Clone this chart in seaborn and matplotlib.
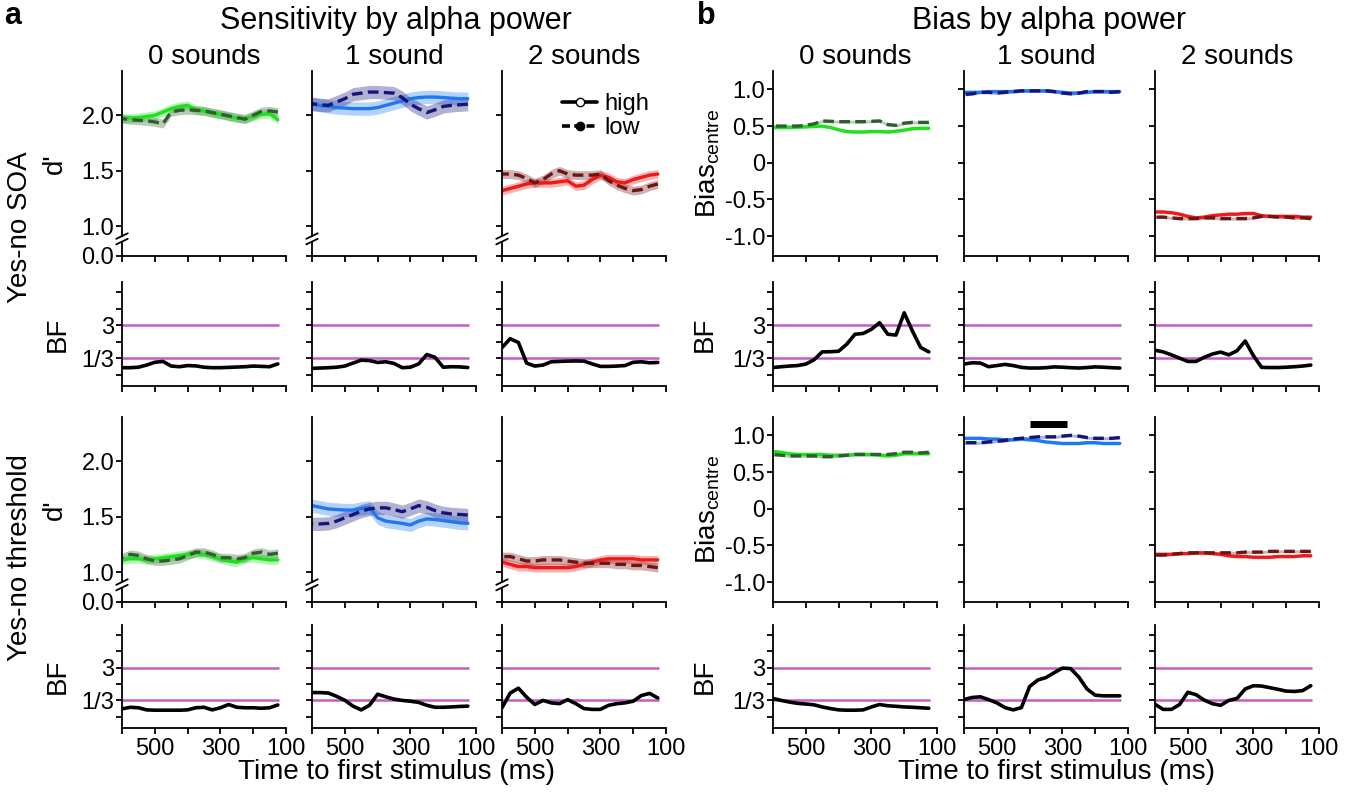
import numpy as np
import pandas as pd
import matplotlib
matplotlib.use("Agg")
import matplotlib.pyplot as plt
import seaborn as sns
from matplotlib.lines import Line2D

sns.set_theme(style="ticks")
plt.rcParams["font.family"] = ["Liberation Sans", "DejaVu Sans"]
plt.rcParams["mathtext.fontset"] = "custom"
plt.rcParams["text.color"] = "black"
plt.rcParams["axes.labelcolor"] = "black"
plt.rcParams["xtick.color"] = "black"
plt.rcParams["ytick.color"] = "black"

# ---------------- data ----------------
time_ms = [600, 575, 550, 525, 500, 475, 450, 425, 400, 375,
           350, 325, 300, 275, 250, 225, 200, 175, 150, 125]
conditions = ["0 sounds", "1 sound", "2 sounds"]
x_ticks = [600, 500, 400, 300, 200, 100]
x_ticklabels = ["", "500", "", "300", "", "100"]

# Yes-no SOA, d'
soa_d_0_high = [1.97, 1.975, 1.98, 1.99, 2.00, 2.03, 2.06, 2.08, 2.09, 2.05, 2.04, 2.02, 2.01, 1.99, 1.975, 1.97, 1.99, 2.01, 2.015, 1.96]
soa_d_0_low = [1.97, 1.96, 1.955, 1.95, 1.94, 1.925, 2.03, 2.045, 2.05, 2.045, 2.04, 2.025, 2.01, 1.995, 1.98, 1.965, 2.00, 2.035, 2.04, 2.03]
soa_d_1_high = [2.10, 2.09, 2.08, 2.07, 2.065, 2.06, 2.06, 2.06, 2.07, 2.09, 2.11, 2.13, 2.15, 2.16, 2.165, 2.165, 2.16, 2.155, 2.15, 2.15]
soa_d_1_low = [2.105, 2.095, 2.09, 2.12, 2.15, 2.19, 2.20, 2.21, 2.21, 2.205, 2.20, 2.16, 2.10, 2.06, 2.025, 2.05, 2.08, 2.09, 2.095, 2.10]
soa_d_2_high = [1.32, 1.34, 1.36, 1.38, 1.39, 1.39, 1.39, 1.40, 1.41, 1.36, 1.37, 1.42, 1.46, 1.44, 1.40, 1.39, 1.42, 1.44, 1.46, 1.47]
soa_d_2_low = [1.47, 1.47, 1.46, 1.43, 1.39, 1.42, 1.47, 1.50, 1.47, 1.46, 1.46, 1.46, 1.47, 1.41, 1.37, 1.34, 1.32, 1.33, 1.36, 1.38]

# Yes-no threshold, d'
thr_d_0_high = [1.11, 1.12, 1.12, 1.11, 1.12, 1.13, 1.14, 1.15, 1.16, 1.17, 1.16, 1.14, 1.12, 1.10, 1.09, 1.12, 1.13, 1.12, 1.11, 1.11]
thr_d_0_low = [1.13, 1.16, 1.15, 1.12, 1.10, 1.10, 1.11, 1.12, 1.15, 1.18, 1.18, 1.16, 1.13, 1.13, 1.12, 1.13, 1.17, 1.18, 1.16, 1.17]
thr_d_1_high = [1.60, 1.585, 1.57, 1.565, 1.56, 1.56, 1.575, 1.585, 1.49, 1.46, 1.45, 1.44, 1.425, 1.46, 1.48, 1.475, 1.465, 1.455, 1.445, 1.44]
thr_d_1_low = [1.435, 1.435, 1.44, 1.46, 1.49, 1.52, 1.55, 1.57, 1.58, 1.58, 1.565, 1.545, 1.57, 1.60, 1.585, 1.555, 1.535, 1.525, 1.52, 1.515]
thr_d_2_high = [1.09, 1.07, 1.05, 1.05, 1.04, 1.04, 1.04, 1.04, 1.04, 1.05, 1.07, 1.09, 1.11, 1.12, 1.12, 1.12, 1.12, 1.11, 1.11, 1.11]
thr_d_2_low = [1.14, 1.14, 1.12, 1.10, 1.10, 1.11, 1.11, 1.11, 1.10, 1.09, 1.08, 1.08, 1.08, 1.08, 1.07, 1.07, 1.06, 1.06, 1.05, 1.04]

# Bayes factors (log base 3), sensitivity
soa_bf_0 = [-1.58, -1.58, -1.55, -1.42, -1.25, -1.20, -1.48, -1.52, -1.45, -1.47, -1.55, -1.58, -1.58, -1.56, -1.54, -1.52, -1.48, -1.50, -1.52, -1.35]
soa_bf_1 = [-1.62, -1.60, -1.58, -1.55, -1.48, -1.30, -1.12, -1.15, -1.26, -1.22, -1.32, -1.58, -1.55, -1.35, -0.78, -0.95, -1.55, -1.52, -1.53, -1.57]
soa_bf_2 = [-0.36, 0.18, -0.05, -1.30, -1.48, -1.42, -1.22, -1.20, -1.18, -1.17, -1.18, -1.35, -1.50, -1.50, -1.48, -1.45, -1.25, -1.22, -1.28, -1.26]
thr_bf_0 = [-1.52, -1.42, -1.45, -1.58, -1.60, -1.60, -1.60, -1.60, -1.58, -1.45, -1.42, -1.58, -1.45, -1.25, -1.42, -1.45, -1.45, -1.48, -1.45, -1.28]
thr_bf_1 = [-0.52, -0.52, -0.55, -0.75, -0.99, -1.35, -1.58, -1.30, -0.62, -0.78, -0.92, -1.00, -1.05, -1.12, -1.30, -1.42, -1.42, -1.40, -1.37, -1.35]
thr_bf_2 = [-1.45, -0.55, -0.25, -0.80, -1.25, -1.00, -1.15, -1.20, -0.95, -1.20, -1.50, -1.55, -1.55, -1.30, -1.20, -1.15, -1.05, -0.70, -0.57, -0.85]

# Yes-no SOA, bias
soa_b_0_high = [0.48, 0.48, 0.48, 0.485, 0.49, 0.495, 0.50, 0.48, 0.45, 0.425, 0.42, 0.42, 0.425, 0.425, 0.42, 0.43, 0.445, 0.465, 0.47, 0.47]
soa_b_0_low = [0.50, 0.50, 0.50, 0.50, 0.51, 0.53, 0.57, 0.565, 0.56, 0.56, 0.56, 0.56, 0.565, 0.57, 0.52, 0.51, 0.54, 0.55, 0.55, 0.55]
soa_b_1_high = [0.96, 0.96, 0.96, 0.97, 0.97, 0.97, 0.97, 0.98, 0.98, 0.98, 0.98, 0.97, 0.96, 0.95, 0.95, 0.96, 0.97, 0.97, 0.97, 0.97]
soa_b_1_low = [0.93, 0.94, 0.96, 0.96, 0.95, 0.96, 0.97, 0.98, 0.98, 0.98, 0.98, 0.97, 0.95, 0.94, 0.95, 0.97, 0.97, 0.97, 0.96, 0.97]
soa_b_2_high = [-0.67, -0.67, -0.68, -0.70, -0.73, -0.75, -0.74, -0.72, -0.71, -0.70, -0.70, -0.69, -0.69, -0.72, -0.73, -0.73, -0.73, -0.73, -0.74, -0.74]
soa_b_2_low = [-0.74, -0.74, -0.75, -0.76, -0.76, -0.76, -0.75, -0.75, -0.76, -0.76, -0.76, -0.76, -0.75, -0.73, -0.73, -0.74, -0.74, -0.75, -0.75, -0.76]

# Yes-no threshold, bias
thr_b_0_high = [0.78, 0.77, 0.75, 0.74, 0.74, 0.74, 0.74, 0.73, 0.73, 0.73, 0.74, 0.74, 0.74, 0.73, 0.72, 0.73, 0.75, 0.75, 0.75, 0.75]
thr_b_0_low = [0.74, 0.73, 0.72, 0.72, 0.72, 0.72, 0.71, 0.71, 0.72, 0.73, 0.74, 0.74, 0.74, 0.74, 0.74, 0.75, 0.77, 0.77, 0.76, 0.77]
thr_b_1_high = [0.96, 0.96, 0.96, 0.95, 0.95, 0.94, 0.94, 0.95, 0.94, 0.93, 0.91, 0.90, 0.89, 0.89, 0.89, 0.90, 0.90, 0.89, 0.89, 0.89]
thr_b_1_low = [0.90, 0.90, 0.90, 0.91, 0.92, 0.93, 0.95, 0.96, 0.97, 0.98, 0.98, 0.98, 0.99, 1.00, 0.99, 0.97, 0.96, 0.96, 0.96, 0.97]
thr_b_2_high = [-0.62, -0.62, -0.62, -0.61, -0.61, -0.60, -0.60, -0.61, -0.62, -0.64, -0.65, -0.65, -0.66, -0.66, -0.66, -0.65, -0.65, -0.65, -0.64, -0.64]
thr_b_2_low = [-0.63, -0.63, -0.62, -0.61, -0.60, -0.60, -0.60, -0.60, -0.60, -0.60, -0.60, -0.59, -0.59, -0.59, -0.58, -0.58, -0.58, -0.58, -0.58, -0.58]

# Bayes factors (log base 3), bias
soa_bbf_0 = [-1.57, -1.52, -1.48, -1.45, -1.36, -1.10, -0.62, -0.61, -0.58, -0.15, 0.45, 0.50, 0.75, 1.15, 0.45, 0.40, 1.75, 0.65, -0.35, -0.62]
soa_bbf_1 = [-1.36, -1.28, -1.30, -1.52, -1.45, -1.38, -1.45, -1.56, -1.60, -1.60, -1.58, -1.53, -1.55, -1.58, -1.60, -1.57, -1.53, -1.55, -1.58, -1.60]
soa_bbf_2 = [-0.52, -0.62, -0.80, -1.00, -1.20, -1.20, -0.95, -0.75, -0.63, -0.80, -0.55, 0.04, -0.85, -1.56, -1.57, -1.57, -1.55, -1.52, -1.48, -1.42]
thr_bbf_0 = [-0.88, -1.00, -1.10, -1.18, -1.22, -1.27, -1.40, -1.50, -1.58, -1.60, -1.60, -1.58, -1.40, -1.25, -1.33, -1.36, -1.40, -1.42, -1.45, -1.48]
thr_bbf_1 = [-0.94, -0.82, -0.78, -0.95, -1.15, -1.44, -1.58, -1.44, -0.15, 0.25, 0.40, 0.70, 0.98, 0.95, 0.43, -0.30, -0.68, -0.72, -0.72, -0.72]
thr_bbf_2 = [-1.24, -1.55, -1.55, -1.25, -0.50, -0.65, -0.98, -1.20, -1.30, -1.00, -0.88, -0.30, -0.10, -0.12, -0.22, -0.32, -0.43, -0.45, -0.40, -0.10]

bf_levels = [1, -1]            # log3 of 3 and 1/3
sig_bar_time = [400, 285]      # significant window, 1 sound threshold bias
sig_bar_value = 1.15

# band half-widths (SEM) per condition
sem_dprime = [0.04, 0.06, 0.04]
sem_bias = [0.02, 0.02, 0.02]

# ---------------- style ----------------
col_high = ["#1ee01e", "#1f78f0", "#f01818"]
col_low = ["#2d5f2d", "#14147a", "#6e1414"]
magenta = "#c55ac8"

W, H = 1353, 795
fig = plt.figure(figsize=(W / 100, H / 100), dpi=100)
col_x = [122, 312, 502, 773, 964, 1155]
col_w = 164
row_tb = [(71, 256), (282, 386), (417, 602), (625, 728)]
TICK_FS = 17
LAB_FS = 20


def make_ax(c, r):
    top, bot = row_tb[r]
    return fig.add_axes([col_x[c] / W, 1 - bot / H, col_w / W, (bot - top) / H])


def style_ax(ax, show_x):
    sns.despine(ax=ax)
    ax.set_xlim(600, 100)
    ax.set_xticks(x_ticks)
    ax.set_xticklabels(x_ticklabels if show_x else [""] * len(x_ticks))
    ax.tick_params(direction="out", length=4, width=1.3, labelsize=TICK_FS,
                   pad=1.5, colors="black")
    ax.tick_params(axis="x", pad=3)
    for s in ("left", "bottom"):
        ax.spines[s].set_linewidth(1.3)
        ax.spines[s].set_color("black")
    ax.set_xlabel("")
    ax.set_ylabel("")


def draw_pair(ax, high, low, ch, cl, sem, lw):
    n = len(time_ms)
    for vals, col in ((high, ch), (low, cl)):
        v = np.asarray(vals)
        ax.fill_between(time_ms, v - sem, v + sem, color=col, alpha=0.33, lw=0)
    df = pd.DataFrame({"time": time_ms + time_ms, "value": high + low,
                       "power": ["high"] * n + ["low"] * n})
    sns.lineplot(data=df, x="time", y="value", hue="power", style="power",
                 palette={"high": ch, "low": cl},
                 dashes={"high": "", "low": (3.2, 1.6)},
                 linewidth=lw, legend=False, estimator=None, ax=ax)


def dprime_axis(ax, labels):
    ax.set_ylim(0.73, 2.40)
    ax.set_yticks([0.73, 1.0, 1.5, 2.0])
    ax.set_yticklabels(["0.0", "1.0", "1.5", "2.0"] if labels else [""] * 4)
    ax.spines["left"].set_bounds(0.91, 2.40)
    tr = ax.get_yaxis_transform()
    ax.plot([0, 0], [0.73, 0.86], transform=tr, color="black", lw=1.3, clip_on=False)
    for yb in (0.86, 0.91):
        ax.plot([-0.035, 0.035], [yb - 0.025, yb + 0.025], transform=tr,
                color="black", lw=1.3, clip_on=False)


def bias_axis(ax, labels):
    ax.set_ylim(-1.27, 1.25)
    ax.set_yticks([-1.0, -0.5, 0, 0.5, 1.0])
    ax.set_yticklabels(["-1.0", "-0.5", "0", "0.5", "1.0"] if labels else [""] * 5)


def bf_panel(ax, bf, labels):
    ax.hlines(bf_levels, 600, 120, color=magenta, lw=1.8)
    sns.lineplot(x=time_ms, y=bf, color="black", linewidth=2.6, estimator=None, ax=ax)


def bf_axis(ax, labels):
    ax.set_ylim(-2.69, 3.62)
    ax.set_yticks([-2, -1, 0, 1, 2, 3])
    ax.set_yticklabels(["", "1/3", "", "3", "", ""] if labels else [""] * 6)


dprime_rows = [[(soa_d_0_high, soa_d_0_low), (soa_d_1_high, soa_d_1_low), (soa_d_2_high, soa_d_2_low)],
               [(thr_d_0_high, thr_d_0_low), (thr_d_1_high, thr_d_1_low), (thr_d_2_high, thr_d_2_low)]]
bias_rows = [[(soa_b_0_high, soa_b_0_low), (soa_b_1_high, soa_b_1_low), (soa_b_2_high, soa_b_2_low)],
             [(thr_b_0_high, thr_b_0_low), (thr_b_1_high, thr_b_1_low), (thr_b_2_high, thr_b_2_low)]]
bf_sens = [[soa_bf_0, soa_bf_1, soa_bf_2], [thr_bf_0, thr_bf_1, thr_bf_2]]
bf_bias = [[soa_bbf_0, soa_bbf_1, soa_bbf_2], [thr_bbf_0, thr_bbf_1, thr_bbf_2]]

for block in range(2):
    r_main = 2 * block
    r_bf = 2 * block + 1
    for c in range(3):
        first = (c == 0)
        # sensitivity
        ax = make_ax(c, r_main)
        hi, lo = dprime_rows[block][c]
        draw_pair(ax, hi, lo, col_high[c], col_low[c], sem_dprime[c], 2.4)
        style_ax(ax, False)
        dprime_axis(ax, first)
        if block == 0 and c == 2:
            handles = [Line2D([0], [0], color="black", lw=2.6, marker="o",
                              markerfacecolor="white", markeredgecolor="black",
                              markersize=6),
                       Line2D([0], [0], color="black", lw=2.6, ls=(0, (2.2, 1.2)),
                              marker="o", markerfacecolor="black", markersize=6)]
            ax.legend(handles, ["high", "low"], loc="upper left",
                      bbox_to_anchor=(562 / W, 1 - 93 / H),
                      bbox_transform=fig.transFigure, frameon=False,
                      fontsize=TICK_FS, handlelength=1.5, handletextpad=0.3,
                      labelspacing=0.1, borderpad=0, borderaxespad=0)
        axb = make_ax(c, r_bf)
        bf_panel(axb, bf_sens[block][c], first)
        style_ax(axb, block == 1)
        bf_axis(axb, first)

        # bias
        ax2 = make_ax(c + 3, r_main)
        hi, lo = bias_rows[block][c]
        draw_pair(ax2, hi, lo, col_high[c], col_low[c], sem_bias[c], 2.4)
        style_ax(ax2, False)
        bias_axis(ax2, first)
        if block == 1 and c == 1:
            ax2.plot(sig_bar_time, [sig_bar_value, sig_bar_value], color="black",
                     lw=5, solid_capstyle="butt")
        axb2 = make_ax(c + 3, r_bf)
        bf_panel(axb2, bf_bias[block][c], first)
        style_ax(axb2, block == 1)
        bf_axis(axb2, first)

# ---------------- texts ----------------
fig.text(13 / W, 1 - 16 / H, "a", fontsize=22, fontweight="bold", ha="center", va="center")
fig.text(706 / W, 1 - 16 / H, "b", fontsize=22, fontweight="bold", ha="center", va="center")
fig.text(396 / W, 1 - 21 / H, "Sensitivity by alpha power", fontsize=22, ha="center", va="center")
fig.text(1049 / W, 1 - 21 / H, "Bias by alpha power", fontsize=22, ha="center", va="center")
for c in range(6):
    fig.text((col_x[c] + col_w / 2) / W, 1 - 57 / H, conditions[c % 3],
             fontsize=LAB_FS, ha="center", va="center")

fig.text(20 / W, 1 - 227 / H, "Yes-no SOA", fontsize=LAB_FS, rotation=90, ha="center", va="center")
fig.text(20 / W, 1 - 558 / H, "Yes-no threshold", fontsize=LAB_FS, rotation=90, ha="center", va="center")
for top, bot in (row_tb[0], row_tb[2]):
    fig.text(55 / W, 1 - (top + bot) / 2 / H, "d'", fontsize=LAB_FS, rotation=90, ha="center", va="center")
    fig.text(708 / W, 1 - (top + bot) / 2 / H, "Bias$_\\mathregular{centre}$", fontsize=LAB_FS,
             rotation=90, ha="center", va="center")
for top, bot in (row_tb[1], row_tb[3]):
    fig.text(58 / W, 1 - (top + bot) / 2 / H, "BF", fontsize=LAB_FS, rotation=90, ha="center", va="center")
    fig.text(705 / W, 1 - (top + bot) / 2 / H, "BF", fontsize=LAB_FS, rotation=90, ha="center", va="center")

fig.text(397 / W, 1 - 772 / H, "Time to first stimulus (ms)", fontsize=LAB_FS, ha="center", va="center")
fig.text(1057 / W, 1 - 772 / H, "Time to first stimulus (ms)", fontsize=LAB_FS, ha="center", va="center")

fig.savefig("out.png", dpi=100, facecolor="white")
